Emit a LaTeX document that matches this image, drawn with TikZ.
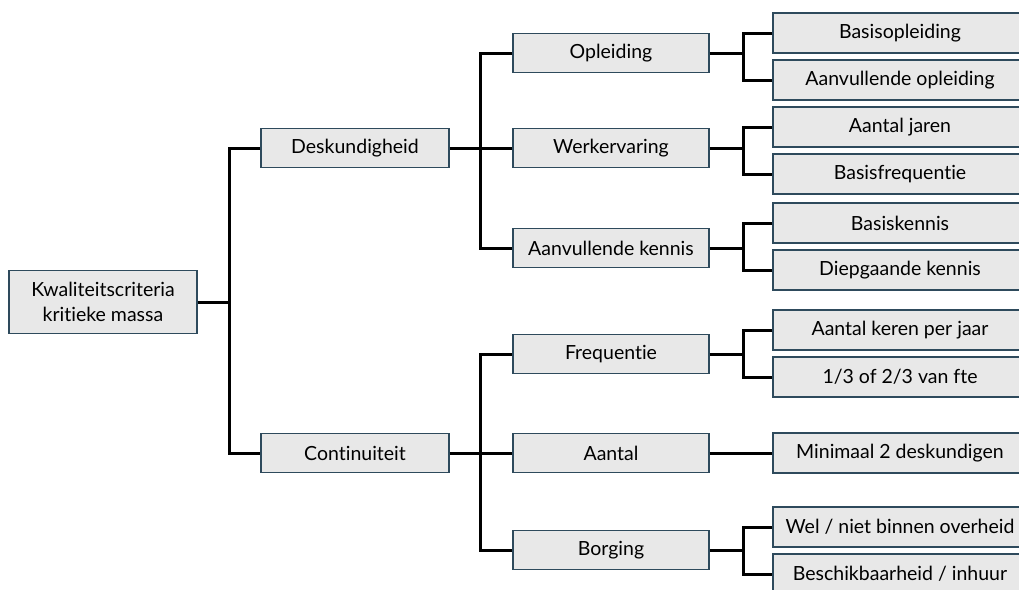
\documentclass[tikz,border=0pt]{standalone}
\usepackage{fontspec}
\setmainfont{Lato}[Ligatures={NoCommon,NoRare}]
\definecolor{boxfill}{HTML}{E8E8E8}
\definecolor{boxline}{HTML}{2E4A5C}
\begin{document}
\begin{tikzpicture}[x=1pt,y=-1pt,
    box/.style={draw=boxline,fill=boxfill,line width=1.3pt,inner sep=0pt,
      align=center,font=\fontsize{19.5}{25}\selectfont},
    topbox/.style={box,minimum width=188pt,minimum height=63pt},
    midbox/.style={box,minimum width=188pt,minimum height=39pt},
    subbox/.style={box,minimum width=196pt,minimum height=39pt},
    leafbox/.style={box,minimum width=254pt,minimum height=40pt},
    link/.style={line width=3pt}]
    \useasboundingbox (0,0) rectangle (1019,589);

    \node[topbox] (root) at (103,302) {Kwaliteitscriteria\\kritieke massa};

    \node[midbox] (desk) at (355,148) {Deskundigheid};
    \node[midbox] (cont) at (355,453) {Continuiteit};

    \node[subbox] (opl)    at (611,53)  {Opleiding};
    \node[subbox] (werk)   at (611,148) {Werkervaring};
    \node[subbox] (kennis) at (611,248) {Aanvullende kennis};
    \node[subbox] (freq)   at (611,354) {Frequentie};
    \node[subbox] (aantal) at (611,453) {Aantal};
    \node[subbox] (borg)   at (611,550) {Borging};

    \node[leafbox] (basisopl)  at (900,33)  {Basisopleiding};
    \node[leafbox] (aanvopl)   at (900,80)  {Aanvullende opleiding};
    \node[leafbox] (jaren)     at (900,127) {Aantal jaren};
    \node[leafbox] (basisfreq) at (900,174) {Basisfrequentie};
    \node[leafbox] (basisk)    at (900,223) {Basiskennis};
    \node[leafbox] (diepk)     at (900,270) {Diepgaande kennis};
    \node[leafbox] (keren)     at (900,330) {Aantal keren per jaar};
    \node[leafbox] (fte)       at (900,377) {1/3 of 2/3 van fte};
    \node[leafbox] (minimaal)  at (900,453) {Minimaal 2 deskundigen};
    \node[leafbox] (wel)       at (900,527) {Wel / niet binnen overheid};
    \node[leafbox] (beschik)   at (900,574) {Beschikbaarheid / inhuur};

    % junctions
    \coordinate (j0) at (229,302);
    \coordinate (j1) at (480,148);
    \coordinate (j2) at (480,453);
    \coordinate (ja) at (743,53);
    \coordinate (jb) at (743,148);
    \coordinate (jc) at (743,248);
    \coordinate (jd) at (743,354);
    \coordinate (je) at (743,550);

    \draw[link] (root) -- (j0);
    \draw[link] (desk.west) -| (j0) |- (cont.west);

    \draw[link] (desk) -- (werk);
    \draw[link] (opl.west) -| (j1) |- (kennis.west);
    \draw[link] (cont) -- (aantal);
    \draw[link] (freq.west) -| (j2) |- (borg.west);

    \draw[link] (opl) -- (ja);
    \draw[link] (basisopl.west) -| (ja) |- (aanvopl.west);
    \draw[link] (werk) -- (jb);
    \draw[link] (jaren.west) -| (jb) |- (basisfreq.west);
    \draw[link] (kennis) -- (jc);
    \draw[link] (basisk.west) -| (jc) |- (diepk.west);
    \draw[link] (freq) -- (jd);
    \draw[link] (keren.west) -| (jd) |- (fte.west);
    \draw[link] (aantal) -- (minimaal);
    \draw[link] (borg) -- (je);
    \draw[link] (wel.west) -| (je) |- (beschik.west);
\end{tikzpicture}
\end{document}
